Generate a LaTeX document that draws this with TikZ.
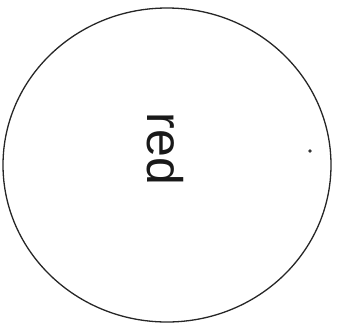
\documentclass[tikz,border=0pt]{standalone}
\usepackage{fontspec}
\setmainfont{Liberation Sans}
\begin{document}
\begin{tikzpicture}[x=1pt,y=-1pt,
  ring/.style={draw=black!85,line width=1.3pt},
  lbl/.style={font=\fontsize{50}{50}\selectfont,rotate=-90,inner sep=0pt,text=black!90}]
\useasboundingbox (0,0) rectangle (337,333);
\draw[ring] (167,165) ellipse [x radius=164, y radius=157];
\node[lbl] (t) at (165,149) {red};
\fill[black!80] (310,151) circle [radius=1.8];
\end{tikzpicture}
\end{document}
